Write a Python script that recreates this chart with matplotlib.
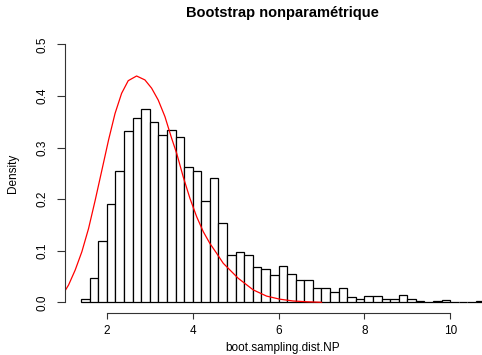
import numpy as np
import matplotlib
matplotlib.use("Agg")
import matplotlib.pyplot as plt

plt.rcParams['font.family'] = ['Liberation Sans', 'DejaVu Sans']

# Histogram data (density per bin, bins of width 0.2 from 1.4 to 10.8)
bin_edges = np.round(np.arange(1.4, 10.8001, 0.2), 1)
densities = [0.0065, 0.0465, 0.119, 0.19, 0.255, 0.332, 0.357, 0.374, 0.349, 0.324,
             0.334, 0.321, 0.262, 0.255, 0.197, 0.240, 0.154, 0.092, 0.097, 0.092,
             0.068, 0.065, 0.052, 0.070, 0.055, 0.043, 0.043, 0.027, 0.027, 0.020,
             0.027, 0.010, 0.007, 0.013, 0.013, 0.007, 0.007, 0.015, 0.007, 0.003,
             0.0, 0.003, 0.005, 0.0, 0.0, 0.0, 0.003]

# Red density curve
curve_x = [1.013, 1.107, 1.262, 1.417, 1.573, 1.728, 1.883, 2.04, 2.19, 2.343,
           2.497, 2.692, 2.886, 3.042, 3.196, 3.352, 3.508, 3.625, 3.779, 3.935,
           4.091, 4.245, 4.40, 4.557, 4.711, 4.867, 5.06, 5.41, 5.72, 6.03,
           6.34, 6.66, 7.0]
curve_y = [0.0206, 0.0335, 0.0626, 0.098, 0.143, 0.198, 0.256, 0.315, 0.366, 0.405,
           0.4295, 0.4386, 0.431, 0.415, 0.392, 0.360, 0.318, 0.289, 0.243, 0.2015,
           0.166, 0.137, 0.114, 0.095, 0.0756, 0.0626, 0.0465, 0.024, 0.012, 0.006,
           0.0025, 0.001, 0.0]

x_ticks = [2, 4, 6, 8, 10]
y_ticks = [0.0, 0.1, 0.2, 0.3, 0.4, 0.5]
title = "Bootstrap nonparamétrique"
xlabel = "boot.sampling.dist.NP"
ylabel = "Density"

W, H = 482, 355
fig = plt.figure(figsize=(W / 100, H / 100), dpi=100)
left, right, bottom, top = 65, 500.7, 312.6, 34
ax = fig.add_axes([left / W, 1 - bottom / H, (right - left) / W, (bottom - top) / H])

lefts = bin_edges[:-1]
widths = np.diff(bin_edges)
ax.bar(lefts, densities, width=widths, align='edge', facecolor='white',
       edgecolor='black', linewidth=0.9)
ax.plot(curve_x, curve_y, color='red', linewidth=0.9, solid_joinstyle='round')

ax.set_xlim(1.024, 11.176)
ax.set_ylim(-0.02, 0.52)

for s in ['top', 'right']:
    ax.spines[s].set_visible(False)
ax.spines['left'].set_bounds(0, 0.5)
ax.spines['bottom'].set_bounds(2, 10)
for s in ['left', 'bottom']:
    ax.spines[s].set_linewidth(0.8)
    ax.spines[s].set_color('#333333')

ax.set_xticks(x_ticks)
ax.set_xticklabels([str(t) for t in x_ticks])
ax.set_yticks(y_ticks)
ax.set_yticklabels([f"{t:.1f}" for t in y_ticks], rotation=90, va='center')
ax.tick_params(axis='x', length=4, width=0.8, pad=5, labelsize=8.5, color='#333333')
ax.tick_params(axis='y', length=6, width=0.8, pad=6, labelsize=8.5, color='#333333')

cx = (left + right) / 2 / W
fig.text(cx, 1 - 13 / H, title, fontsize=10.5, fontweight='bold', ha='center', va='center')
fig.text(cx, 1 - 348 / H, xlabel, fontsize=8.5, ha='center', va='center')
fig.text(13 / W, 1 - 173 / H, ylabel, fontsize=8.5, ha='center', va='center', rotation=90)

fig.savefig("out.png", dpi=100)
